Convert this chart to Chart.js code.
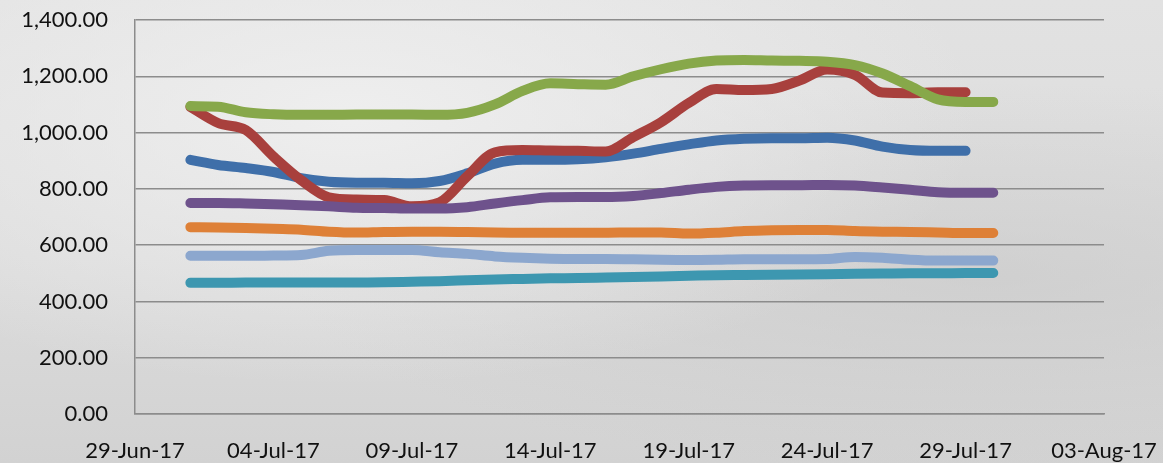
<!DOCTYPE html>
<html>
<head>
<meta charset="utf-8">
<script src="https://cdn.jsdelivr.net/npm/chart.js@4/dist/chart.umd.min.js"></script>
<style>
  html, body { margin: 0; padding: 0; }
  body {
    width: 1163px; height: 463px; overflow: hidden;
    background:
      radial-gradient(ellipse at 30% 25%, rgba(240,240,240,0.9), rgba(240,240,240,0) 55%),
      radial-gradient(ellipse at 85% 60%, rgba(200,200,200,0.6), rgba(200,200,200,0) 50%),
      linear-gradient(180deg, #e2e2e2 0%, #dcdcdc 55%, #d2d2d2 100%);
  }
  #wrap { position: relative; width: 1163px; height: 463px; }
</style>
</head>
<body>
<div id="wrap"><canvas id="priceChart"></canvas></div>
<script>
// dates of the daily readings (1 Jul - 30 Jul 2017)
const dates = [
    '2017-07-01', '2017-07-02', '2017-07-03', '2017-07-04', '2017-07-05',
    '2017-07-06', '2017-07-07', '2017-07-08', '2017-07-09', '2017-07-10',
    '2017-07-11', '2017-07-12', '2017-07-13', '2017-07-14', '2017-07-15',
    '2017-07-16', '2017-07-17', '2017-07-18', '2017-07-19', '2017-07-20',
    '2017-07-21', '2017-07-22', '2017-07-23', '2017-07-24', '2017-07-25',
    '2017-07-26', '2017-07-27', '2017-07-28', '2017-07-29', '2017-07-30'
];

const axisStart = '2017-06-29';
const xTickLabels = ['29-Jun-17', '04-Jul-17', '09-Jul-17', '14-Jul-17', '19-Jul-17', '24-Jul-17', '29-Jul-17', '03-Aug-17'];
const yTicks = [0, 200, 400, 600, 800, 1000, 1200, 1400];

// series (blue and red stop on 29 Jul)
const blueSeries = [903, 885, 874, 860, 838, 825, 822, 822, 820, 828, 855, 890, 903, 903, 905, 912, 925, 942, 958, 972, 978, 980, 980, 982, 972, 950, 938, 935, 935];
const redSeries = [1091, 1034, 1009, 915, 831, 770, 762, 760, 738, 752, 845, 930, 938, 936, 935, 933, 984, 1037, 1105, 1155, 1151, 1155, 1185, 1224, 1205, 1142, 1140, 1143, 1143];
const greenSeries = [1094, 1092, 1072, 1065, 1063, 1063, 1064, 1064, 1064, 1063, 1070, 1100, 1148, 1175, 1172, 1170, 1200, 1225, 1245, 1256, 1258, 1256, 1255, 1252, 1240, 1210, 1165, 1118, 1109, 1109];
const purpleSeries = [750, 750, 748, 745, 742, 738, 733, 732, 730, 730, 735, 748, 760, 770, 771, 771, 775, 785, 797, 807, 812, 813, 813, 814, 812, 805, 797, 788, 786, 786];
const tealSeries = [466, 466, 467, 467, 467, 467, 467, 468, 470, 472, 475, 478, 480, 482, 483, 485, 487, 489, 491, 493, 494, 495, 496, 497, 498, 499, 500, 500, 501, 501];
const orangeSeries = [664, 663, 661, 658, 655, 648, 645, 647, 648, 648, 647, 645, 644, 644, 644, 644, 645, 645, 641, 644, 650, 653, 654, 654, 650, 648, 647, 645, 643, 643];
const lightBlueSeries = [562, 562, 562, 563, 565, 580, 583, 583, 583, 575, 569, 560, 555, 552, 551, 551, 550, 548, 547, 548, 550, 550, 550, 551, 558, 555, 548, 545, 545, 545];

const DAY = 86400000;
function dayOffset(d) {
    return (Date.parse(d) - Date.parse(axisStart)) / DAY;
}

function toPoints(values) {
    return values.map((v, i) => ({ x: dayOffset(dates[i]), y: v }));
}

const seriesList = [
    { data: blueSeries, color: '#3f6fa9' },
    { data: redSeries, color: '#a8403d' },
    { data: greenSeries, color: '#87a84a' },
    { data: purpleSeries, color: '#6e528c' },
    { data: tealSeries, color: '#3d97b0' },
    { data: orangeSeries, color: '#de8037' },
    { data: lightBlueSeries, color: '#8ca7ce' }
];

const lastDay = dayOffset('2017-08-03');

const datasets = seriesList.map((s, i) => ({
    data: toPoints(s.data),
    borderColor: s.color,
    backgroundColor: s.color,
    borderWidth: 10,
    borderCapStyle: 'round',
    borderJoinStyle: 'round',
    pointRadius: 0,
    fill: false,
    cubicInterpolationMode: 'monotone',
    order: seriesList.length - i
}));

const ctx = document.getElementById('priceChart').getContext('2d');

new Chart(ctx, {
    type: 'line',
    data: { datasets: datasets },
    options: {
        responsive: true,
        maintainAspectRatio: false,
        animation: false,
        layout: { padding: { top: 20, right: 59, left: 0, bottom: 0 } },
        plugins: {
            legend: { display: false },
            tooltip: { enabled: false }
        },
        scales: {
            x: {
                type: 'linear',
                min: 0,
                max: lastDay,
                afterBuildTicks: function(scale) {
                    scale.ticks = xTickLabels.map((t, i) => ({ value: i * 5 }));
                },
                afterFit: function(scale) {
                    scale.height = 49;
                    scale.paddingLeft = 0;
                    scale.paddingRight = 0;
                },
                grid: { display: false },
                border: { display: true, color: '#8c8c8c', width: 1.5 },
                ticks: {
                    autoSkip: false,
                    maxRotation: 0,
                    padding: 16,
                    color: '#111',
                    font: { family: 'Lato', size: 22 },
                    callback: function(value) {
                        return xTickLabels[Math.round(value / 5)];
                    }
                }
            },
            y: {
                min: 0,
                max: 1400,
                afterBuildTicks: function(scale) {
                    scale.ticks = yTicks.map(v => ({ value: v }));
                },
                afterFit: function(scale) {
                    scale.width = 135;
                    scale.paddingTop = 0;
                    scale.paddingBottom = 0;
                },
                grid: { color: '#8c8c8c', lineWidth: 1.5, drawTicks: false },
                border: { display: true, color: '#8c8c8c', width: 1.5 },
                ticks: {
                    padding: 27,
                    color: '#111',
                    font: { family: 'Lato', size: 22 },
                    callback: function(value) {
                        return value.toLocaleString('en-US', { minimumFractionDigits: 2, maximumFractionDigits: 2 });
                    }
                }
            }
        }
    }
});
</script>
</body>
</html>
